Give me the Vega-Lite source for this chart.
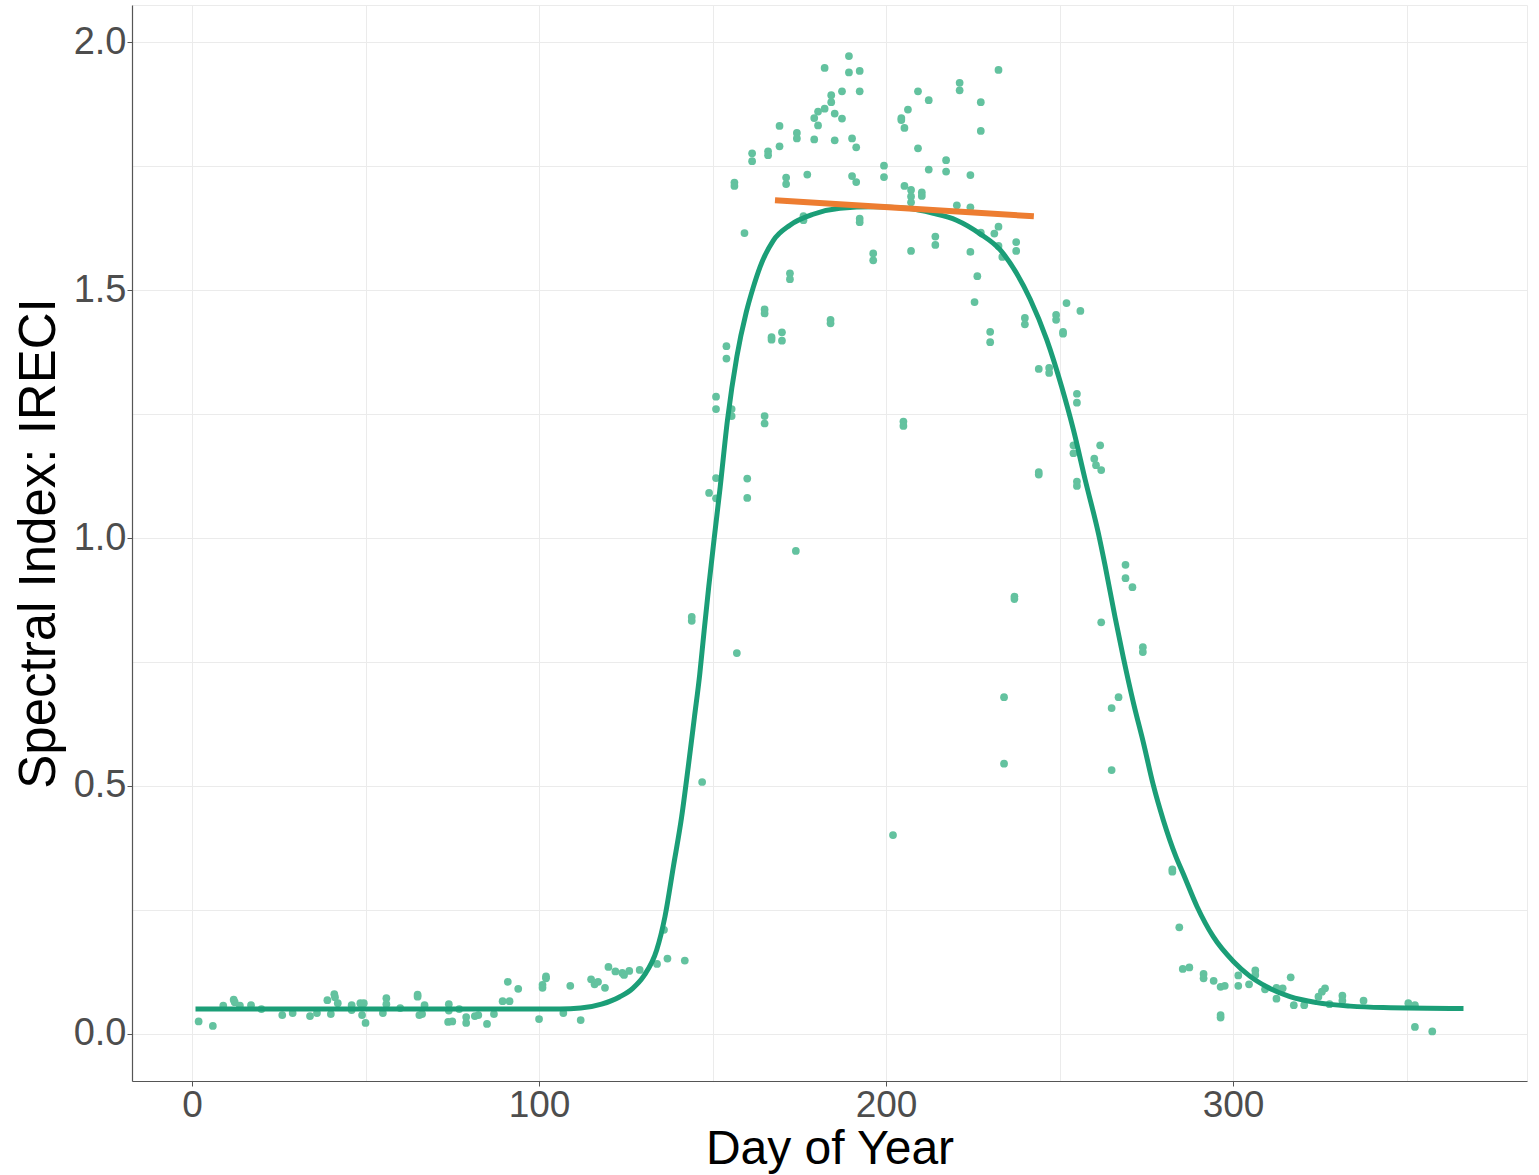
{
  "$schema": "https://vega.github.io/schema/vega-lite/v6.json",
  "width": 1395,
  "height": 1076,
  "autosize": {"type": "none"},
  "padding": {"left": 132, "top": 5, "right": 12, "bottom": 94},
  "background": "white",
  "config": {
    "view": {"stroke": "#ebebeb"},
    "axis": {
      "labelFont": "Liberation Sans",
      "titleFont": "Liberation Sans",
      "labelFontSize": 38,
      "labelColor": "#4d4d4d",
      "titleFontSize": 51,
      "titleFontWeight": "normal",
      "titleColor": "#000000",
      "gridColor": "#ebebeb",
      "gridWidth": 1,
      "domainColor": "#555555",
      "domainWidth": 1.2,
      "tickColor": "#555555",
      "tickSize": 5
    }
  },
  "datasets": {
    "pts": [
      {"doy":1.9,"v":0.025},{"doy":6,"v":0.016},{"doy":9,"v":0.057},{"doy":12,"v":0.069},{"doy":12.3,"v":0.064},{"doy":13.8,"v":0.057},{"doy":17,"v":0.058},{"doy":20,"v":0.05},{"doy":26,"v":0.038},{"doy":29,"v":0.042},{"doy":34,"v":0.036},{"doy":36,"v":0.042},{"doy":39,"v":0.068},{"doy":41,"v":0.08},{"doy":41.2,"v":0.074},{"doy":42,"v":0.062},{"doy":40,"v":0.04},{"doy":46,"v":0.058},{"doy":46,"v":0.048},{"doy":48.5,"v":0.062},{"doy":49.5,"v":0.062},{"doy":49,"v":0.038},{"doy":50,"v":0.022},{"doy":55,"v":0.042},{"doy":56,"v":0.072},{"doy":56,"v":0.06},{"doy":60,"v":0.052},{"doy":65,"v":0.079},{"doy":65,"v":0.075},{"doy":65.5,"v":0.038},{"doy":66.3,"v":0.04},{"doy":67,"v":0.058},{"doy":74,"v":0.06},{"doy":74,"v":0.047},{"doy":73.8,"v":0.024},{"doy":75,"v":0.025},{"doy":77,"v":0.05},{"doy":79,"v":0.034},{"doy":79,"v":0.022},{"doy":81.5,"v":0.036},{"doy":82.5,"v":0.038},{"doy":85,"v":0.02},{"doy":87,"v":0.04},{"doy":89.5,"v":0.066},{"doy":91.5,"v":0.066},{"doy":91,"v":0.105},{"doy":94,"v":0.091},{"doy":100,"v":0.03},{"doy":101,"v":0.099},{"doy":101,"v":0.093},{"doy":102,"v":0.116},{"doy":102,"v":0.112},{"doy":107,"v":0.042},{"doy":109,"v":0.097},{"doy":112,"v":0.028},{"doy":115,"v":0.11},{"doy":116,"v":0.1},{"doy":117,"v":0.105},{"doy":119,"v":0.093},{"doy":120,"v":0.135},{"doy":122,"v":0.126},{"doy":124,"v":0.123},{"doy":124.5,"v":0.119},{"doy":126,"v":0.127},
      {"doy":129,"v":0.129},{"doy":134,"v":0.141},{"doy":137,"v":0.152},{"doy":142,"v":0.148},{"doy":136,"v":0.21},{"doy":144,"v":0.841},{"doy":144,"v":0.833},{"doy":157,"v":0.768},{"doy":147,"v":0.508},{"doy":202,"v":0.401},{"doy":234,"v":0.679},{"doy":234,"v":0.545},
      {"doy":149,"v":1.091},{"doy":151,"v":1.121},{"doy":151,"v":1.08},{"doy":151,"v":1.285},{"doy":151,"v":1.26},{"doy":154,"v":1.387},{"doy":154,"v":1.362},{"doy":155.5,"v":1.26},{"doy":155.5,"v":1.246},{"doy":160,"v":1.12},{"doy":160,"v":1.081},{"doy":165,"v":1.461},{"doy":165,"v":1.453},{"doy":165,"v":1.246},{"doy":165,"v":1.231},{"doy":167,"v":1.405},{"doy":167,"v":1.4},{"doy":170,"v":1.415},{"doy":170,"v":1.398},{"doy":174,"v":0.974},{"doy":184,"v":1.44},{"doy":184,"v":1.433},{"doy":205,"v":1.235},{"doy":205,"v":1.226},{"doy":225.5,"v":1.476},{"doy":230,"v":1.416},{"doy":230,"v":1.395},{"doy":237,"v":0.882},{"doy":237,"v":0.877},{"doy":240,"v":1.444},{"doy":240,"v":1.431},{"doy":244,"v":1.341},{"doy":244,"v":1.133},{"doy":244,"v":1.128},{"doy":247,"v":1.343},{"doy":247,"v":1.333},{"doy":249,"v":1.45},{"doy":249,"v":1.44},{"doy":251,"v":1.416},{"doy":251,"v":1.412},{"doy":252,"v":1.474},{"doy":256,"v":1.458},{"doy":255,"v":1.291},{"doy":255,"v":1.273},{"doy":254,"v":1.187},{"doy":254,"v":1.171},{"doy":255,"v":1.114},{"doy":255,"v":1.105},
      {"doy":261.7,"v":1.187},{"doy":260,"v":1.16},{"doy":260.5,"v":1.147},{"doy":262,"v":1.137},{"doy":262,"v":0.83},{"doy":265,"v":0.657},{"doy":265,"v":0.532},{"doy":267,"v":0.679},{"doy":269,"v":0.946},{"doy":269,"v":0.919},{"doy":271,"v":0.901},{"doy":274,"v":0.78},{"doy":274,"v":0.77},
      {"doy":282.5,"v":0.332},{"doy":282.5,"v":0.327},{"doy":284.5,"v":0.215},{"doy":285.5,"v":0.131},{"doy":287.4,"v":0.134},{"doy":291.5,"v":0.121},{"doy":291.5,"v":0.112},{"doy":294.4,"v":0.107},{"doy":296.4,"v":0.095},{"doy":297.6,"v":0.097},{"doy":296.4,"v":0.038},{"doy":296.4,"v":0.033},{"doy":301.5,"v":0.118},{"doy":301.5,"v":0.097},{"doy":304.6,"v":0.1},{"doy":306.4,"v":0.128},{"doy":306.4,"v":0.119},{"doy":309.2,"v":0.09},{"doy":312.5,"v":0.093},{"doy":312.5,"v":0.071},{"doy":314.3,"v":0.092},{"doy":316.6,"v":0.114},{"doy":317.5,"v":0.058},{"doy":320.5,"v":0.058},{"doy":324.6,"v":0.075},{"doy":325.6,"v":0.085},{"doy":326.5,"v":0.092},{"doy":327.8,"v":0.06},{"doy":331.5,"v":0.077},{"doy":331.5,"v":0.067},{"doy":337.6,"v":0.067},{"doy":350.5,"v":0.062},{"doy":352.4,"v":0.058},{"doy":352.4,"v":0.014},{"doy":357.4,"v":0.005},
      {"doy":156.3,"v":1.717},{"doy":156.3,"v":1.71},{"doy":159.2,"v":1.615},{"doy":161.4,"v":1.776},{"doy":161.4,"v":1.76},{"doy":166,"v":1.78},{"doy":166,"v":1.772},{"doy":169.3,"v":1.831},{"doy":169.3,"v":1.79},{"doy":171.2,"v":1.727},{"doy":171.2,"v":1.714},{"doy":172.3,"v":1.534},{"doy":172.3,"v":1.522},{"doy":174.3,"v":1.817},{"doy":174.3,"v":1.806},{"doy":176.2,"v":1.649},{"doy":176.2,"v":1.641},{"doy":177.3,"v":1.733},{"doy":179.3,"v":1.847},{"doy":179.3,"v":1.804},{"doy":180.4,"v":1.86},{"doy":180.4,"v":1.832},{"doy":182.3,"v":1.948},{"doy":182.3,"v":1.866},{"doy":184.2,"v":1.893},{"doy":184.2,"v":1.879},{"doy":185.2,"v":1.856},{"doy":185.2,"v":1.802},{"doy":187.3,"v":1.901},{"doy":187.3,"v":1.846},{"doy":189.3,"v":1.972},{"doy":189.3,"v":1.939},{"doy":190.2,"v":1.806},{"doy":190.2,"v":1.73},{"doy":191.4,"v":1.718},{"doy":191.4,"v":1.788},{"doy":192.4,"v":1.942},{"doy":192.4,"v":1.901},{"doy":192.4,"v":1.644},{"doy":192.4,"v":1.637},{"doy":196.3,"v":1.574},{"doy":196.3,"v":1.56},{"doy":199.4,"v":1.751},{"doy":199.4,"v":1.728},{"doy":204.4,"v":1.847},{"doy":204.4,"v":1.843},{"doy":205.3,"v":1.827},{"doy":205.3,"v":1.71},{"doy":206.3,"v":1.864},{"doy":207.2,"v":1.702},{"doy":207.2,"v":1.689},{"doy":207.2,"v":1.677},{"doy":207.2,"v":1.579},{"doy":209.2,"v":1.901},{"doy":209.2,"v":1.786},{"doy":210.3,"v":1.697},{"doy":210.3,"v":1.69},{"doy":212.3,"v":1.883},{"doy":212.3,"v":1.743},{"doy":214.2,"v":1.608},{"doy":214.2,"v":1.591},{"doy":217.3,"v":1.762},{"doy":217.3,"v":1.739},{"doy":220.4,"v":1.671},{"doy":221.2,"v":1.918},{"doy":221.2,"v":1.903},{"doy":224.3,"v":1.732},{"doy":224.3,"v":1.667},{"doy":224.3,"v":1.577},{"doy":226.3,"v":1.528},{"doy":227.3,"v":1.879},{"doy":227.3,"v":1.821},{"doy":227.3,"v":1.616},{"doy":231.2,"v":1.614},{"doy":232.4,"v":1.944},{"doy":232.4,"v":1.628},{"doy":232.4,"v":1.589},{"doy":233.5,"v":1.567},{"doy":237.5,"v":1.597},{"doy":237.5,"v":1.579}
    ],
    "fit": [
      {"doy":1,"v":0.05},{"doy":60,"v":0.05},{"doy":106,"v":0.05},{"doy":112,"v":0.052},{"doy":118,"v":0.06},{"doy":123.3,"v":0.075},{"doy":127,"v":0.092},{"doy":130.1,"v":0.116},{"doy":133.9,"v":0.169},{"doy":136.3,"v":0.237},{"doy":138.7,"v":0.337},{"doy":141.1,"v":0.438},{"doy":143,"v":0.539},{"doy":144.8,"v":0.64},{"doy":146.3,"v":0.725},{"doy":147.4,"v":0.801},{"doy":148.9,"v":0.902},{"doy":150.5,"v":1.001},{"doy":152.2,"v":1.103},{"doy":154.3,"v":1.238},{"doy":157,"v":1.366},{"doy":159.7,"v":1.455},{"doy":161.7,"v":1.505},{"doy":163.7,"v":1.547},{"doy":167.5,"v":1.6},{"doy":172.3,"v":1.631},{"doy":179,"v":1.653},{"doy":186.7,"v":1.665},{"doy":196.3,"v":1.668},{"doy":206,"v":1.665},{"doy":213.6,"v":1.655},{"doy":220.3,"v":1.641},{"doy":227,"v":1.614},{"doy":232.9,"v":1.581},{"doy":237.6,"v":1.534},{"doy":241.5,"v":1.482},{"doy":246.3,"v":1.4},{"doy":250.6,"v":1.305},{"doy":254,"v":1.218},{"doy":257.4,"v":1.117},{"doy":261.2,"v":1.009},{"doy":263.1,"v":0.945},{"doy":266,"v":0.84},{"doy":268.4,"v":0.758},{"doy":271.3,"v":0.667},{"doy":274.2,"v":0.586},{"doy":277,"v":0.502},{"doy":279.9,"v":0.431},{"doy":283.5,"v":0.358},{"doy":285.7,"v":0.322},{"doy":289.6,"v":0.257},{"doy":294.3,"v":0.196},{"doy":300.1,"v":0.146},{"doy":304.9,"v":0.116},{"doy":309.7,"v":0.095},{"doy":316.4,"v":0.075},{"doy":324.1,"v":0.063},{"doy":333.7,"v":0.056},{"doy":343.3,"v":0.053},{"doy":366.4,"v":0.051}
    ],
    "peak": [
      {"doy":168,"v":1.681},{"doy":242.6,"v":1.649}
    ]
  },
  "layer": [
    {
      "data": {"name": "pts"},
      "mark": {"type": "circle", "size": 60, "opacity": 1, "color": "#63c29f"},
      "encoding": {
        "x": {
          "field": "doy", "type": "quantitative",
          "scale": {"domain": [-17.3, 384.7], "nice": false, "zero": false},
          "axis": {
            "title": "Day of Year",
            "values": [0, 50, 100, 150, 200, 250, 300, 350],
            "labelExpr": "datum.value % 100 === 0 ? datum.label : ''",
            "tickOpacity": {"condition": {"test": "datum.value % 100 === 0", "value": 1}, "value": 0},
            "labelFontSize": 37,
            "labelPadding": 1,
            "titleFontSize": 48,
            "titlePadding": 2
          }
        },
        "y": {
          "field": "v", "type": "quantitative",
          "scale": {"domain": [-0.095, 2.075], "nice": false, "zero": false},
          "axis": {
            "title": "Spectral Index: IRECI",
            "values": [0, 0.25, 0.5, 0.75, 1, 1.25, 1.5, 1.75, 2],
            "format": ".1f",
            "labelExpr": "datum.value % 0.5 === 0 ? datum.label : ''",
            "tickOpacity": {"condition": {"test": "datum.value % 0.5 === 0", "value": 1}, "value": 0},
            "labelPadding": 1,
            "titlePadding": 8
          }
        }
      }
    },
    {
      "data": {"name": "fit"},
      "mark": {"type": "line", "color": "#1b9e77", "strokeWidth": 5, "interpolate": "monotone"},
      "encoding": {
        "x": {"field": "doy", "type": "quantitative"},
        "y": {"field": "v", "type": "quantitative"}
      }
    },
    {
      "data": {"name": "peak"},
      "mark": {"type": "line", "color": "#ed7d31", "strokeWidth": 6},
      "encoding": {
        "x": {"field": "doy", "type": "quantitative"},
        "y": {"field": "v", "type": "quantitative"}
      }
    }
  ]
}
